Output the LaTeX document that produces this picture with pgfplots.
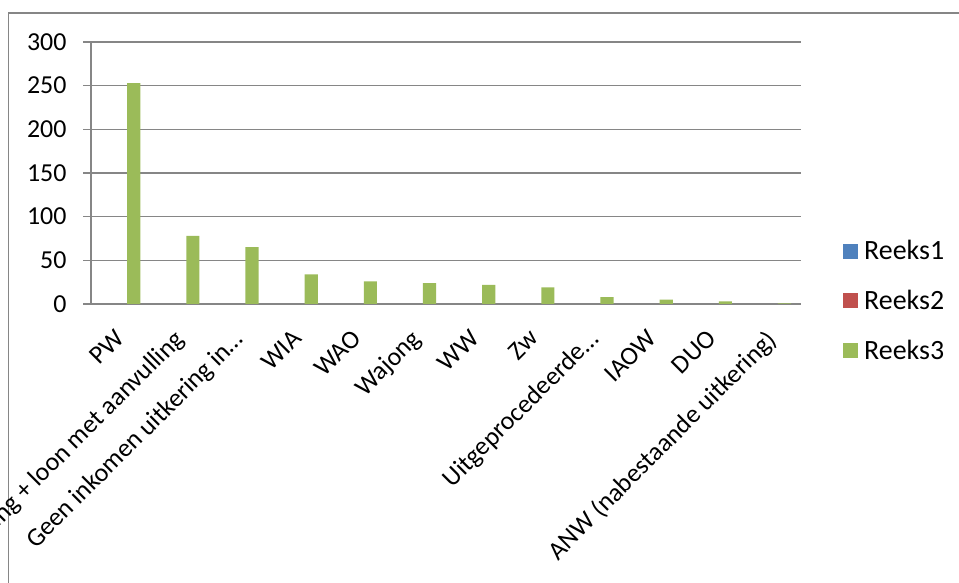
\documentclass[border=0pt]{standalone}
\usepackage{pgfplots}
\pgfplotsset{compat=1.18}
\usepackage{fontspec}
\setmainfont{Carlito}
\definecolor{reeksA}{HTML}{4F81BD}
\definecolor{reeksB}{HTML}{C0504D}
\definecolor{reeksC}{HTML}{9BBB59}
\definecolor{rastergrijs}{HTML}{868686}
\begin{document}
\begin{tikzpicture}
\useasboundingbox (0,0) rectangle (959bp,583bp);
\clip (0,0) rectangle (959bp,583bp);
% kader van de grafiek (rechts en onder buiten beeld)
\draw[rastergrijs, line width=1.5bp] (8.5bp,-5bp) -- (8.5bp,570bp) -- (970bp,570bp);
\begin{axis}[
  at={(91bp,279bp)}, anchor=south west,
  width=710bp, height=262bp, scale only axis,
  font=\fontsize{26}{31}\selectfont,
  xmin=0.5, xmax=12.5,
  ymin=0, ymax=300,
  ytick={0,50,...,300},
  ymajorgrids,
  grid style={rastergrijs, line width=1.2bp},
  axis line style={rastergrijs, line width=1.2bp},
  axis x line*=bottom, axis y line*=left,
  tick style={rastergrijs, line width=1.2bp},
  tick align=outside,
  major tick length=8bp,
  xtick={1,...,12},
  xtick style={draw=none},
  xticklabels={PW, Uitkering + loon met aanvulling, Geen inkomen uitkering in…, WIA, WAO, Wajong, WW, Zw, Uitgeprocedeerde…, IAOW, DUO, ANW (nabestaande uitkering)},
  xticklabel style={xshift=-7bp, yshift=-13bp, rotate=45, anchor=north east, inner sep=2bp},
  extra x ticks={0.5,1.5,...,12.5},
  extra x tick labels={},
  extra x tick style={grid=none, xtick style={rastergrijs, line width=1.2bp}, major tick length=8bp},
  yticklabel style={/pgf/number format/assume math mode=true, xshift=-13bp},
  ybar, bar width=0.222, 
  legend style={at={(1.055,0.012)}, anchor=west, draw=none, fill=none,
    row sep=25bp, font=\fontsize{28}{33}\selectfont},
  legend cell align=left,
  legend image code/.code={\fill[#1] (0bp,-7.5bp) rectangle (15bp,7.5bp); \path (19bp,0bp);},
]
\addlegendimage{fill=reeksA, draw=none}
\addlegendentry{Reeks1}
\addlegendimage{fill=reeksB, draw=none}
\addlegendentry{Reeks2}
\addplot[fill=reeksC, draw=none, bar shift=0.222] coordinates {
  (1,253) (2,78) (3,65) (4,34) (5,26) (6,24)
  (7,22) (8,19) (9,8) (10,5) (11,3) (12,0.6)
};
\addlegendentry{Reeks3}
\end{axis}
\end{tikzpicture}
\end{document}
